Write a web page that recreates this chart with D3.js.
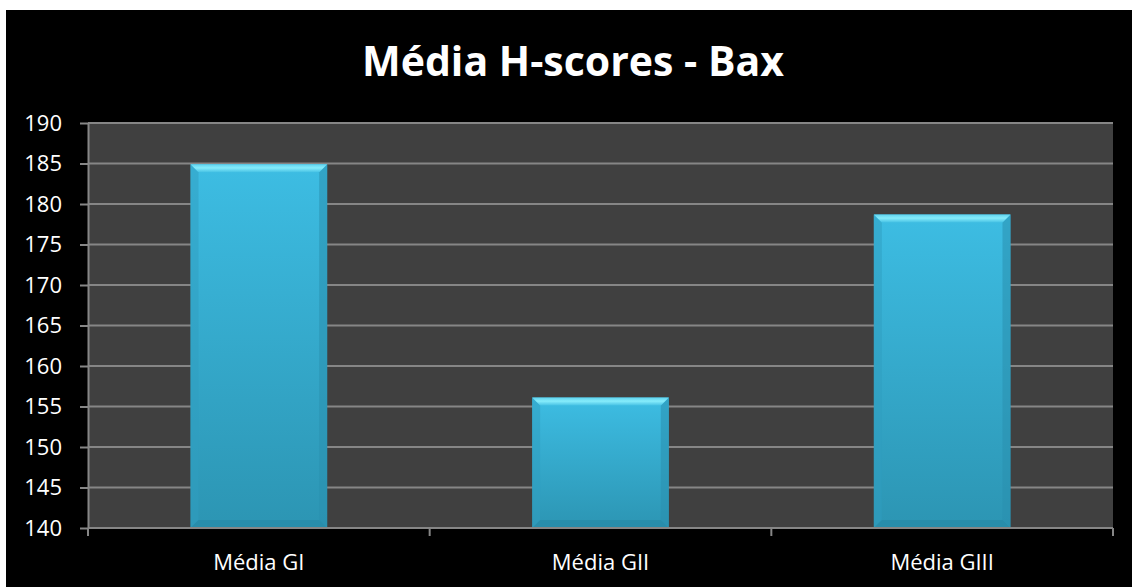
<!DOCTYPE html>
<html>
<head>
<meta charset="utf-8">
<script src="https://cdn.jsdelivr.net/npm/d3@7"></script>
<style>
  html, body { margin: 0; padding: 0; background: #fff; }
  svg { display: block; }
  text { font-family: "Open Sans", "Noto Sans", sans-serif; }
</style>
</head>
<body>
<svg id="chart"></svg>
<script>
/* ── data ── */
const categories = ['Média GI', 'Média GII', 'Média GIII'];
const values     = [184.9, 156.1, 178.7];
const yTicks     = [140, 145, 150, 155, 160, 165, 170, 175, 180, 185, 190];
const title      = 'Média H-scores - Bax';

/* ── layout ── */
const W = 1132, H = 587;
const frame = { left: 6, top: 10 };
const plot = { left: 88, right: 1113, top: 123, bottom: 528 };

const svg = d3.select('#chart').attr('width', W).attr('height', H);

// black chart frame
svg.append('rect')
  .attr('x', frame.left).attr('y', frame.top)
  .attr('width', W - frame.left).attr('height', H - frame.top)
  .attr('fill', '#000');

// bar gradients
const defs = svg.append('defs');
const body = defs.append('linearGradient').attr('id', 'barBody')
  .attr('x1', 0).attr('y1', 0).attr('x2', 0).attr('y2', 1);
body.append('stop').attr('offset', '0%').attr('stop-color', '#3dbde3');
body.append('stop').attr('offset', '100%').attr('stop-color', '#2c95b3');

const topBevel = defs.append('linearGradient').attr('id', 'barTop')
  .attr('x1', 0).attr('y1', 0).attr('x2', 0).attr('y2', 1);
topBevel.append('stop').attr('offset', '0%').attr('stop-color', '#5fd3ef');
topBevel.append('stop').attr('offset', '45%').attr('stop-color', '#86ecfb');
topBevel.append('stop').attr('offset', '100%').attr('stop-color', '#45c1e4');

/* ── scales ── */
const x = d3.scaleBand().domain(categories).range([plot.left, plot.right]).paddingInner(0.6).paddingOuter(0.3);
const y = d3.scaleLinear().domain([140, 190]).range([plot.bottom, plot.top]);

// plot background
svg.append('rect')
  .attr('x', plot.left).attr('y', plot.top)
  .attr('width', plot.right - plot.left).attr('height', plot.bottom - plot.top)
  .attr('fill', '#404040');

// y axis with outside ticks
const yAxis = svg.append('g')
  .attr('transform', `translate(${plot.left},0)`)
  .call(d3.axisLeft(y).tickValues(yTicks).tickSize(8).tickPadding(18)
    .tickSizeOuter(0));
yAxis.select('.domain').attr('stroke', '#868686').attr('stroke-width', 2);
yAxis.selectAll('.tick line').attr('stroke', '#868686').attr('stroke-width', 2);
yAxis.selectAll('.tick text').attr('fill', '#fff').attr('font-size', 22)
  .attr('font-family', '"Open Sans", sans-serif');

// horizontal gridlines
svg.append('g')
  .selectAll('line')
  .data(yTicks)
  .join('line')
    .attr('x1', plot.left).attr('x2', plot.right)
    .attr('y1', d => y(d)).attr('y2', d => y(d))
    .attr('stroke', '#868686').attr('stroke-width', 2);

/* ── bars ── */
const bev = 8;
const bars = svg.append('g')
  .selectAll('g')
  .data(categories.map((c, i) => ({ c, v: values[i] })))
  .join('g');

bars.append('rect')
  .attr('x', d => x(d.c)).attr('y', d => y(d.v))
  .attr('width', x.bandwidth()).attr('height', d => plot.bottom - y(d.v))
  .attr('fill', 'url(#barBody)');

// left/right/bottom darker edges
bars.append('path')
  .attr('d', d => {
    const x0 = x(d.c), y0 = y(d.v), y1 = plot.bottom;
    return `M${x0},${y0}L${x0 + bev},${y0 + bev}L${x0 + bev},${y1 - bev}L${x0},${y1}Z`;
  })
  .attr('fill', '#2f9ec0').attr('opacity', 0.5);
bars.append('path')
  .attr('d', d => {
    const x1 = x(d.c) + x.bandwidth(), y0 = y(d.v), y1 = plot.bottom;
    return `M${x1},${y0}L${x1 - bev},${y0 + bev}L${x1 - bev},${y1 - bev}L${x1},${y1}Z`;
  })
  .attr('fill', '#2a8fae').attr('opacity', 0.55);
bars.append('path')
  .attr('d', d => {
    const x0 = x(d.c), x1 = x0 + x.bandwidth(), y1 = plot.bottom;
    return `M${x0},${y1}L${x0 + bev},${y1 - bev}L${x1 - bev},${y1 - bev}L${x1},${y1}Z`;
  })
  .attr('fill', '#24839f').attr('opacity', 0.45);
// top bevel highlight
bars.append('path')
  .attr('d', d => {
    const x0 = x(d.c), x1 = x0 + x.bandwidth(), y0 = y(d.v);
    return `M${x0},${y0}L${x1},${y0}L${x1 - bev},${y0 + bev}L${x0 + bev},${y0 + bev}Z`;
  })
  .attr('fill', 'url(#barTop)');

/* ── x axis ── */
const xEdge = d3.scaleLinear().domain([0, categories.length]).range([plot.left, plot.right]);
svg.append('line')
  .attr('x1', plot.left).attr('x2', plot.right)
  .attr('y1', plot.bottom).attr('y2', plot.bottom)
  .attr('stroke', '#868686').attr('stroke-width', 2);
svg.append('g')
  .selectAll('line')
  .data(d3.range(categories.length + 1))
  .join('line')
    .attr('x1', d => xEdge(d)).attr('x2', d => xEdge(d))
    .attr('y1', plot.bottom).attr('y2', plot.bottom + 8)
    .attr('stroke', '#868686').attr('stroke-width', 2);
svg.append('g')
  .selectAll('text')
  .data(categories)
  .join('text')
    .attr('x', d => x(d) + x.bandwidth() / 2)
    .attr('y', 570)
    .attr('text-anchor', 'middle')
    .attr('fill', '#fff').attr('font-size', 22)
    .text(d => d);

/* ── title ── */
svg.append('text')
  .attr('x', 573).attr('y', 76)
  .attr('text-anchor', 'middle')
  .attr('fill', '#fff').attr('font-size', 41).attr('font-weight', 'bold')
  .text(title);
</script>
</body>
</html>
